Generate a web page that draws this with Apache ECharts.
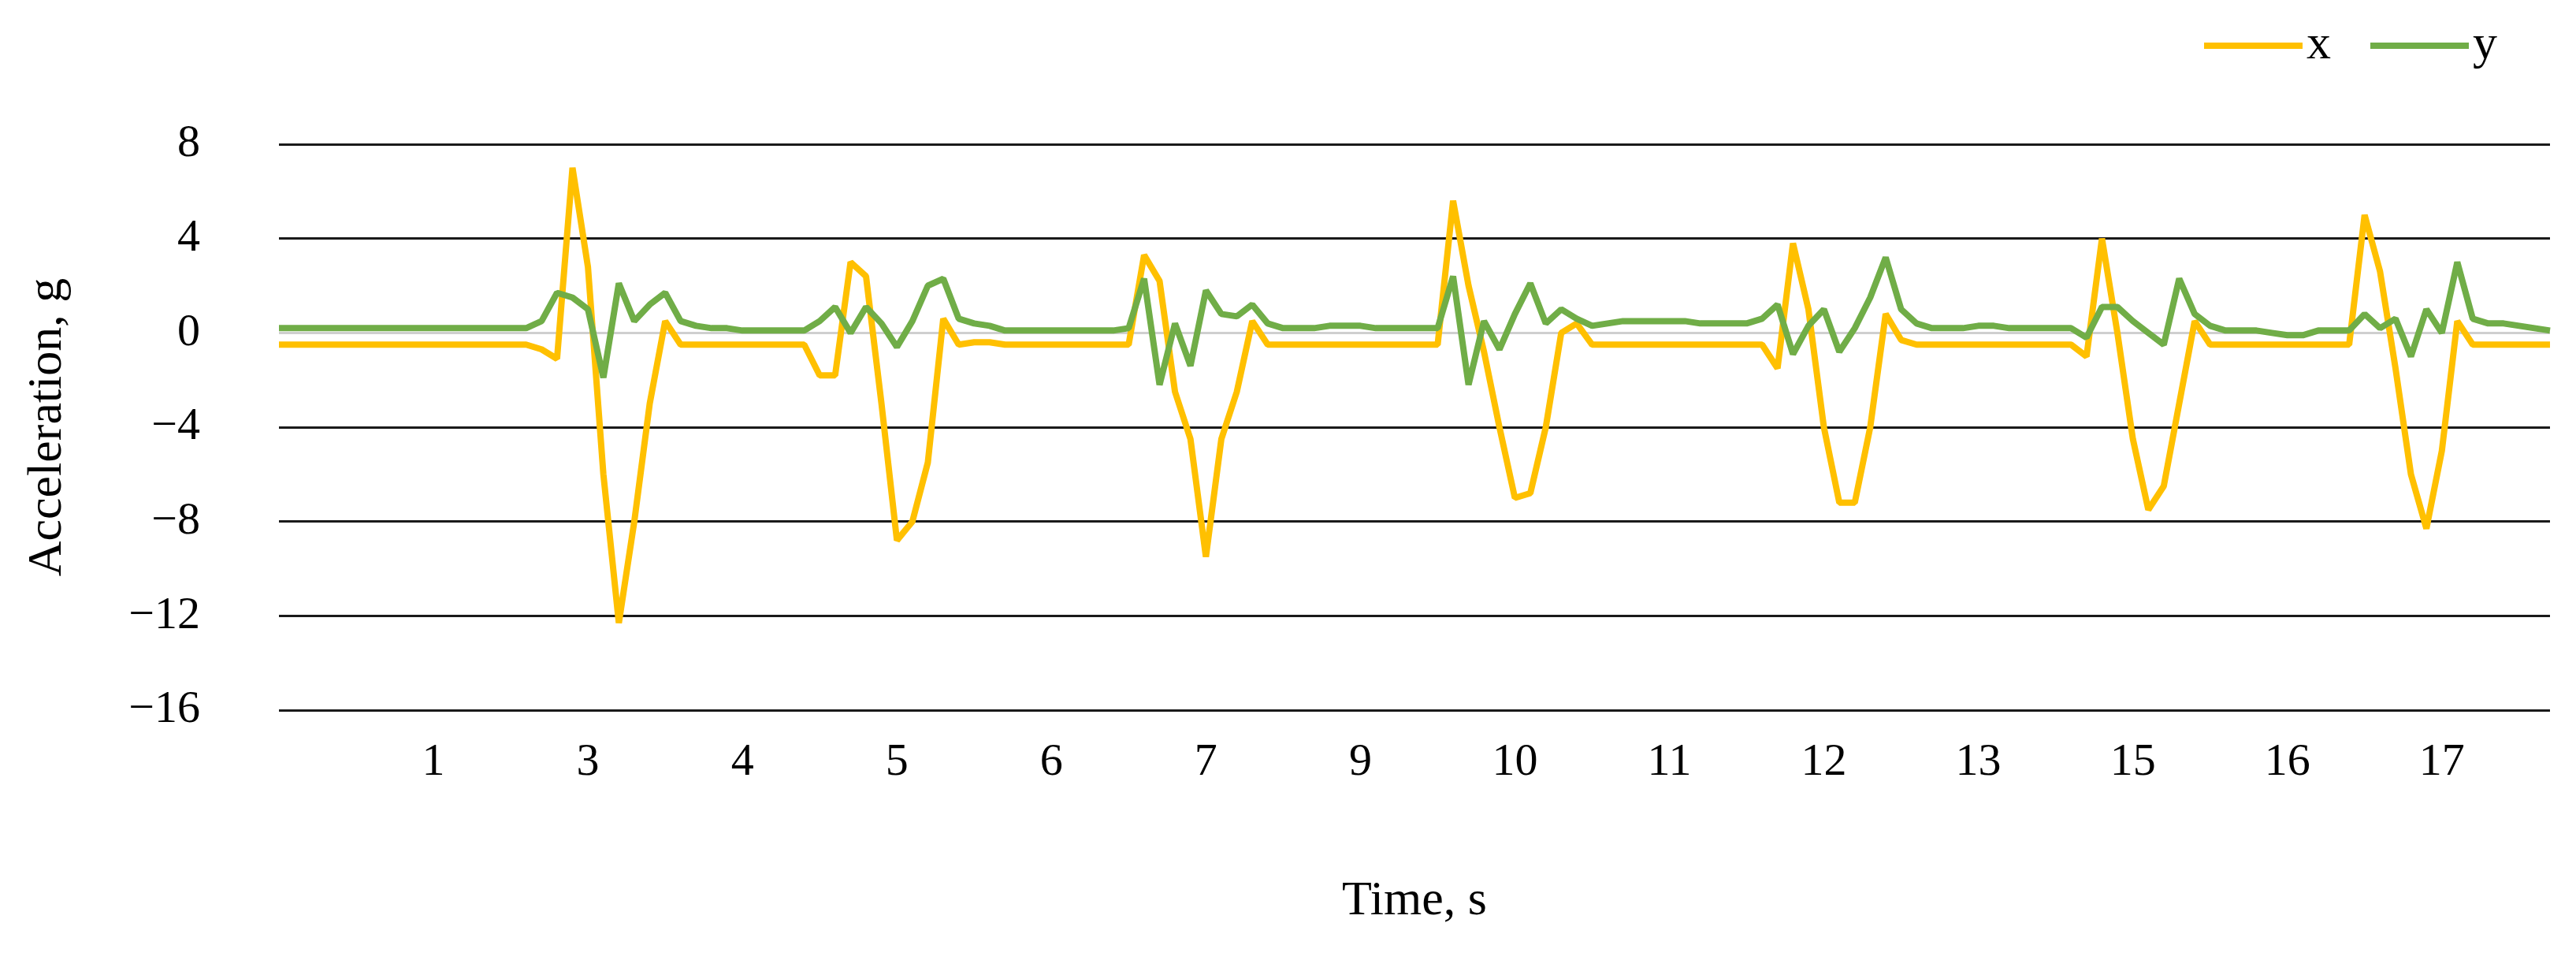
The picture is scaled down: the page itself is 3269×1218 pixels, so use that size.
<!DOCTYPE html>
<html>
<head>
<meta charset="utf-8">
<title>Acceleration</title>
<style>
  *{margin:0;padding:0;}
  html,body,#chart{width:100%;height:100%;background:#fff;}
</style>
</head>
<body>
<div id="chart"></div>
<script src="https://cdn.jsdelivr.net/npm/echarts@6/dist/echarts.min.js"></script>
<script>
// tick labels shown every 10 samples
var tickLabels = ['1','3','4','5','6','7','9','10','11','12','13','15','16','17'];

// x acceleration, 148 samples
var xSeries = [
  -0.5,-0.5,-0.5,-0.5,-0.5,-0.5,-0.5,-0.5,-0.5,-0.5,
  -0.5,-0.5,-0.5,-0.5,-0.5,-0.5,-0.5,-0.7,-1.1,7.0,
  2.8,-6.0,-12.3,-8.0,-3.0,0.5,-0.5,-0.5,-0.5,-0.5,
  -0.5,-0.5,-0.5,-0.5,-0.5,-1.8,-1.8,3.0,2.4,-3.0,
  -8.8,-8.0,-5.5,0.6,-0.5,-0.4,-0.4,-0.5,-0.5,-0.5,
  -0.5,-0.5,-0.5,-0.5,-0.5,-0.5,3.3,2.2,-2.5,-4.5,
  -9.5,-4.5,-2.5,0.5,-0.5,-0.5,-0.5,-0.5,-0.5,-0.5,
  -0.5,-0.5,-0.5,-0.5,-0.5,-0.5,5.6,2.0,-0.8,-4.0,
  -7.0,-6.8,-4.0,0.0,0.4,-0.5,-0.5,-0.5,-0.5,-0.5,
  -0.5,-0.5,-0.5,-0.5,-0.5,-0.5,-0.5,-1.5,3.8,1.0,
  -4.0,-7.2,-7.2,-4.0,0.8,-0.3,-0.5,-0.5,-0.5,-0.5,
  -0.5,-0.5,-0.5,-0.5,-0.5,-0.5,-0.5,-1.0,4.0,0.0,
  -4.5,-7.5,-6.5,-3.0,0.5,-0.5,-0.5,-0.5,-0.5,-0.5,
  -0.5,-0.5,-0.5,-0.5,-0.5,5.0,2.6,-1.5,-6.0,-8.3,
  -5.0,0.5,-0.5,-0.5,-0.5,-0.5,-0.5,-0.5
];

// y acceleration
var ySeries = [
  0.2,0.2,0.2,0.2,0.2,0.2,0.2,0.2,0.2,0.2,
  0.2,0.2,0.2,0.2,0.2,0.2,0.2,0.5,1.7,1.5,
  1.0,-1.9,2.1,0.5,1.2,1.7,0.5,0.3,0.2,0.2,
  0.1,0.1,0.1,0.1,0.1,0.5,1.1,0.0,1.1,0.4,
  -0.6,0.5,2.0,2.3,0.6,0.4,0.3,0.1,0.1,0.1,
  0.1,0.1,0.1,0.1,0.1,0.2,2.3,-2.2,0.4,-1.4,
  1.8,0.8,0.7,1.2,0.4,0.2,0.2,0.2,0.3,0.3,
  0.3,0.2,0.2,0.2,0.2,0.2,2.4,-2.2,0.5,-0.7,
  0.8,2.1,0.4,1.0,0.6,0.3,0.4,0.5,0.5,0.5,
  0.5,0.5,0.4,0.4,0.4,0.4,0.6,1.2,-0.9,0.3,
  1.0,-0.8,0.2,1.5,3.2,1.0,0.4,0.2,0.2,0.2,
  0.3,0.3,0.2,0.2,0.2,0.2,0.2,-0.2,1.1,1.1,
  0.5,0.0,-0.5,2.3,0.8,0.3,0.1,0.1,0.1,0.0,
  -0.1,-0.1,0.1,0.1,0.1,0.8,0.2,0.6,-1.0,1.0,
  0.0,3.0,0.6,0.4,0.4,0.3,0.2,0.1
];

var categories = xSeries.map(function (v, i) { return String(i); });

var font = '"Liberation Serif", "DejaVu Serif", serif';
var chart = echarts.init(document.getElementById('chart'));
chart.setOption({
  backgroundColor: '#fff',
  animation: false,
  textStyle: { fontFamily: font },
  legend: {
    top: 22, right: 95,
    itemWidth: 125, itemHeight: 8, itemGap: 50,
    icon: 'rect',
    textStyle: { fontSize: 62, color: '#000', fontFamily: font },
    data: ['x', 'y']
  },
  grid: { left: 354, right: 33, top: 183, bottom: 317 },
  xAxis: {
    type: 'category',
    data: categories,
    boundaryGap: false,
    name: 'Time, s',
    nameLocation: 'middle',
    nameGap: 212,
    nameTextStyle: { fontSize: 62, color: '#000', fontFamily: font },
    axisLine: { show: false },
    axisTick: { show: false },
    axisLabel: {
      interval: function (idx) { return idx > 0 && idx % 10 === 0; },
      formatter: function (v, idx) { return tickLabels[idx / 10 - 1] || ''; },
      fontSize: 58, color: '#000', margin: 38, fontFamily: font
    },
    splitLine: { show: false }
  },
  yAxis: {
    type: 'value',
    min: -16, max: 8, interval: 4,
    name: 'Acceleration, g',
    nameLocation: 'middle',
    nameGap: 262,
    nameTextStyle: { fontSize: 62, color: '#000', fontFamily: font },
    axisLine: { show: false },
    axisTick: { show: false },
    axisLabel: {
      fontSize: 58, color: '#000', margin: 100, fontFamily: font,
      formatter: function (v) { return String(v).replace('-', '\u2212'); }
    },
    splitLine: {
      lineStyle: {
        width: 3,
        color: ['#1a1a1a', '#1a1a1a', '#1a1a1a', '#1a1a1a', '#cfcfcf', '#1a1a1a', '#1a1a1a']
      }
    }
  },
  series: [
    { name: 'x', type: 'line', data: xSeries, showSymbol: false,
      lineStyle: { color: '#FFC000', width: 8 }, itemStyle: { color: '#FFC000' } },
    { name: 'y', type: 'line', data: ySeries, showSymbol: false,
      lineStyle: { color: '#70AD47', width: 8 }, itemStyle: { color: '#70AD47' } }
  ]
});
</script>
</body>
</html>
